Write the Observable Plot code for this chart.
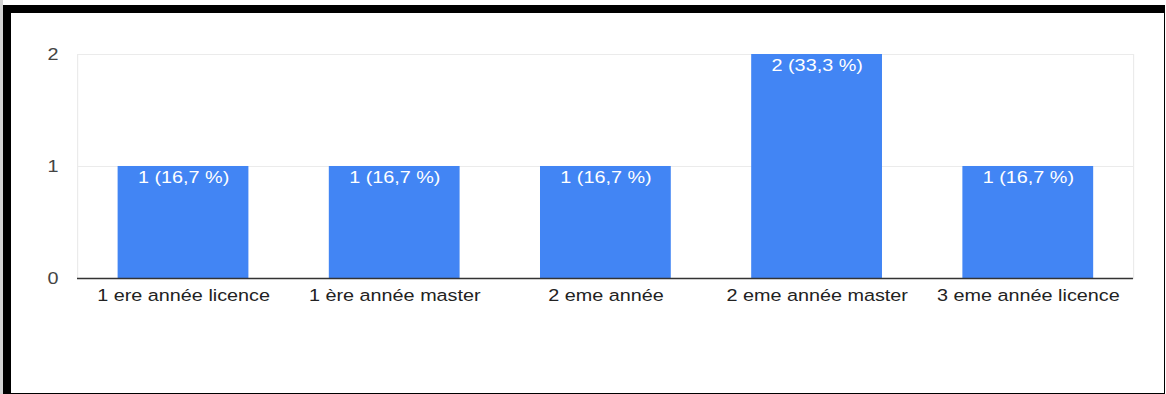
<!DOCTYPE html>
<html>
<head>
<meta charset="utf-8">
<script src="https://cdn.jsdelivr.net/npm/d3@7"></script>
<script src="https://cdn.jsdelivr.net/npm/@observablehq/plot@0.6"></script>
<style>
  html, body { margin: 0; padding: 0; background: #fff; }
  #wrap { position: relative; width: 1166px; height: 394px; overflow: hidden; }
  #chart svg { transform: scaleX(1.2); transform-origin: 0 0; display: block; }
  #strip { position: absolute; left: 0; top: 0; width: 3px; height: 394px; background: #d4d4d4; }
  #frame { position: absolute; left: 3px; top: 5px; width: 1162px; height: 389px; box-sizing: border-box;
           border-top: 8px solid #000; border-left: 8px solid #000; border-right: 1px solid #000; border-bottom: 1px solid #000;
           pointer-events: none; }
</style>
</head>
<body>
<div id="wrap">
  <div id="chart"></div>
  <div id="strip"></div>
  <div id="frame"></div>
</div>
<script>
const categories = ["1 ere année licence", "1 ère année master", "2 eme année", "2 eme année master", "3 eme année licence"];
const counts = [1, 1, 1, 2, 1];
const percents = [16.7, 16.7, 16.7, 33.3, 16.7];
const yTicks = [0, 1, 2];

const data = categories.map((c, i) => ({
  cat: c,
  n: counts[i],
  label: `${counts[i]} (${percents[i].toFixed(1).replace(".", ",")} %)`
}));

const S = 1.2;
const W = 1166 / S;
const font = "Arial, 'Liberation Sans', sans-serif";

const chart = Plot.plot({
  width: W,
  height: 394,
  marginLeft: 77 / S,
  marginRight: 33 / S,
  marginTop: 54,
  marginBottom: 116,
  style: { fontFamily: font, fontSize: "16.5px", background: "transparent" },
  x: { domain: categories, paddingInner: 0.38, paddingOuter: 0.19, label: null },
  y: { domain: [0, 2], label: null },
  marks: [
    Plot.frame({ stroke: "#ebebeb", strokeWidth: 1 }),
    Plot.ruleY(yTicks.filter(d => d > 0), { stroke: "#ebebeb", strokeWidth: 1 }),
    Plot.barY(data, { x: "cat", y: "n", fill: "#4285f4" }),
    Plot.ruleY([0], { stroke: "#333", strokeWidth: 1.5 }),
    Plot.text(data, { x: "cat", y: "n", text: "label", fill: "#fff", dy: 11, fontSize: 16.5 }),
    Plot.axisY({ ticks: yTicks, tickSize: 0, tickPadding: 16, tickFormat: d => String(d), color: "#444", fontSize: 16.5 }),
    Plot.axisX({ tickSize: 0, tickPadding: 11, color: "#222", fontSize: 16.5 })
  ]
});
document.getElementById("chart").appendChild(chart);
</script>
</body>
</html>
